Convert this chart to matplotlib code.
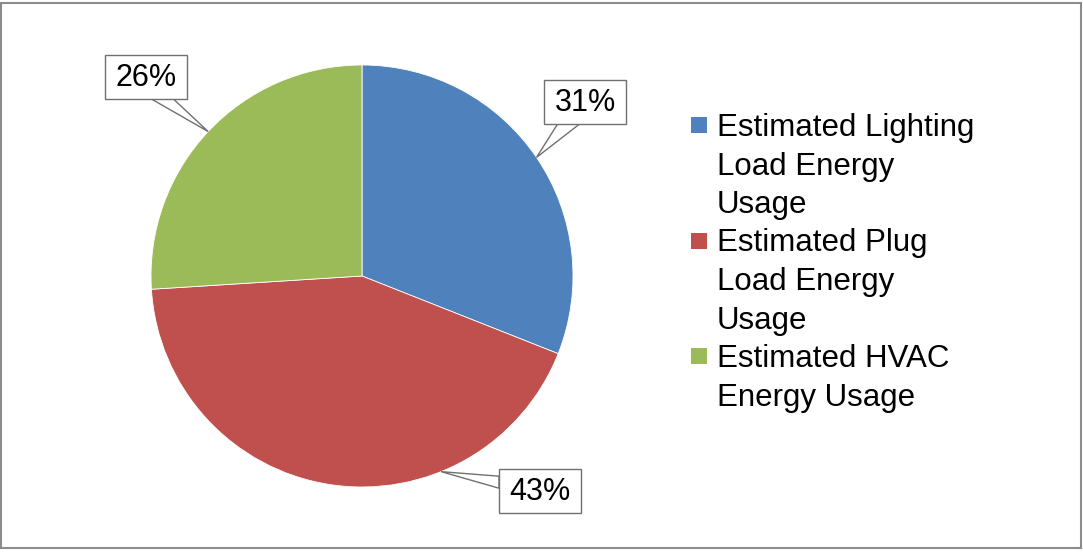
import numpy as np
import matplotlib
matplotlib.use("Agg")
import matplotlib.pyplot as plt
from matplotlib.patches import Rectangle, Polygon

plt.rcParams["font.family"] = ["Liberation Sans", "DejaVu Sans"]

# data
categories = ["Estimated Lighting\nLoad Energy\nUsage",
              "Estimated Plug\nLoad Energy\nUsage",
              "Estimated HVAC\nEnergy Usage"]
shares = [31, 43, 26]
colors = ["#4F81BD", "#C0504D", "#9BBB59"]

W, H = 1083, 553
fig = plt.figure(figsize=(W / 100, H / 100), dpi=100)

# pie: centre (362, 276) px, radius 211 px
cx, cy, r = 362, 276, 211
ax = fig.add_axes([(cx - r) / W, (H - cy - r) / H, 2 * r / W, 2 * r / H])
wedges, _ = ax.pie(shares, colors=colors, startangle=90, counterclock=False,
                   radius=1, wedgeprops=dict(lw=0.6, ec="white"))
ax.set_xlim(-1, 1)
ax.set_ylim(-1, 1)
ax.set_aspect("equal")
ax.axis("off")

# overlay in pixel coords for frame, callouts and legend
ov = fig.add_axes([0, 0, 1, 1], zorder=5)
ov.set_xlim(0, W)
ov.set_ylim(H, 0)
ov.axis("off")
ov.patch.set_alpha(0)

ov.add_patch(Rectangle((1, 3), 1080, 545, fill=False, ec="#8c8c8c", lw=1.5))

# callout labels (Excel nudged the plug label leader a bit)
label_pos = [(585, 102), (540, 491), (146, 77)]
nudge = [0, 31, 0]
bw, bh = 82, 44
for w, s, (tx, ty), dn in zip(wedges, shares, label_pos, nudge):
    ang = np.deg2rad((w.theta1 + w.theta2) / 2 + dn)
    px, py = cx + r * np.cos(ang), cy - r * np.sin(ang)
    dx, dy = px - tx, py - ty
    if abs(dy) * bw > abs(dx) * bh:
        ey = ty + np.sign(dy) * bh / 2
        mx = tx + np.sign(dx) * 0.4 * bw / 2
        base = [(mx - 11, ey), (mx + 11, ey)]
    else:
        ex = tx + np.sign(dx) * bw / 2
        my = ty + np.sign(dy) * 0.4 * bh / 2
        base = [(ex, my - 6), (ex, my + 6)]
    ov.add_patch(Polygon([(px, py)] + base, closed=True, fc="white",
                         ec="#707070", lw=1, zorder=2))
    ov.add_patch(Rectangle((tx - bw / 2, ty - bh / 2), bw, bh, fc="white",
                           ec="#707070", lw=1, zorder=3))
    ov.text(tx, ty + 1, f"{s}%", ha="center", va="center", fontsize=22,
            zorder=4)

# legend drawn by hand
pitch = 38.5
row = 0
for lab, c in zip(categories, colors):
    top = 113 + row * pitch
    ov.add_patch(Rectangle((691, top + 4), 16, 16, fc=c, ec="none"))
    ov.text(717, top, lab, ha="left", va="top", fontsize=22.5,
            linespacing=1.37)
    row += lab.count("\n") + 1

fig.savefig("out.png", dpi=100)
